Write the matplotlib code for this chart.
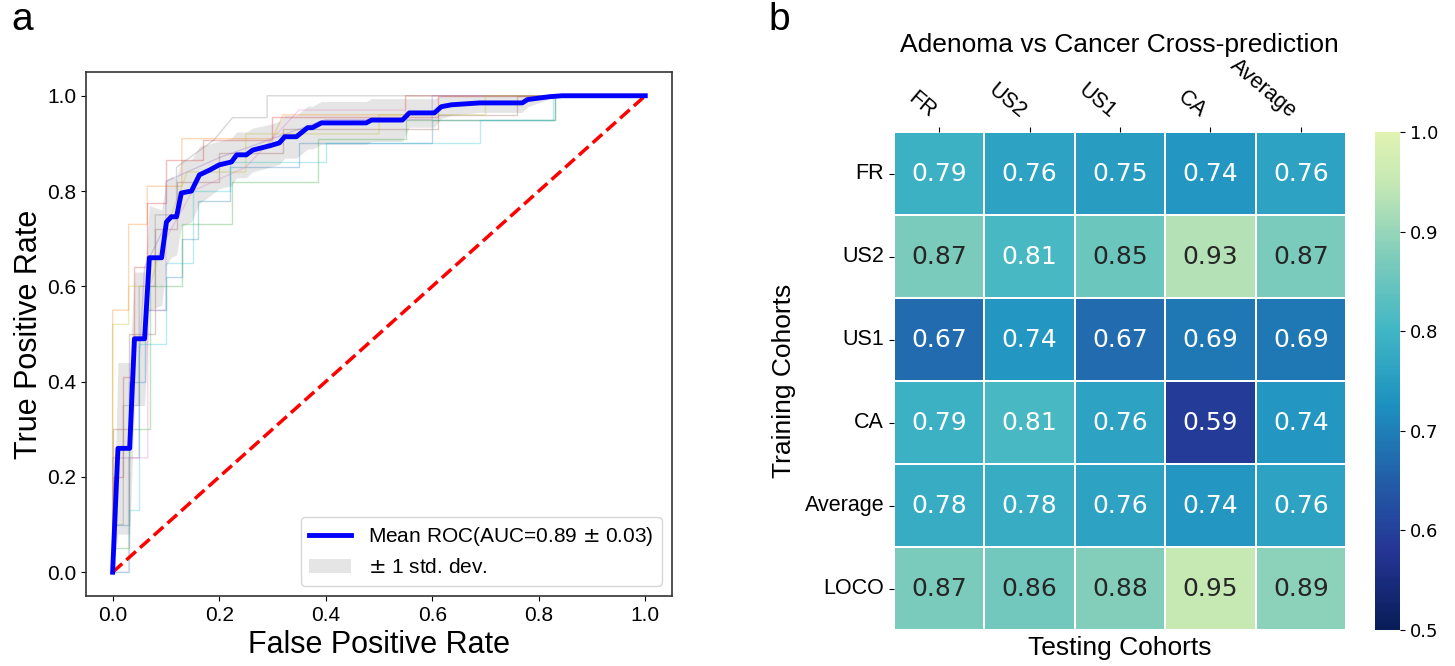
import numpy as np
import matplotlib
matplotlib.use("Agg")
import matplotlib.pyplot as plt
from matplotlib.colors import ListedColormap
import seaborn as sns

plt.rcParams['font.family'] = ['Liberation Sans', 'DejaVu Sans']

# ---- panel a: ROC ----
mean_fpr = [0, 0.01, 0.032, 0.041, 0.06, 0.069, 0.092, 0.101, 0.11, 0.12, 0.129, 0.148,
            0.163, 0.182, 0.2, 0.223, 0.233, 0.251, 0.263, 0.295, 0.313, 0.323, 0.345,
            0.366, 0.375, 0.392, 0.476, 0.486, 0.544, 0.557, 0.604, 0.617, 0.636, 0.689,
            0.769, 0.779, 0.82, 0.844, 1.0]
mean_tpr = [0, 0.26, 0.26, 0.49, 0.49, 0.66, 0.66, 0.735, 0.746, 0.746, 0.796, 0.80,
            0.834, 0.844, 0.855, 0.861, 0.876, 0.876, 0.886, 0.895, 0.901, 0.914, 0.914,
            0.933, 0.933, 0.943, 0.943, 0.949, 0.949, 0.964, 0.964, 0.977, 0.981, 0.985,
            0.985, 0.992, 0.998, 1.0, 1.0]
std_tpr = [0, 0.18, 0.18, 0.14, 0.14, 0.11, 0.10, 0.09, 0.085, 0.08, 0.07, 0.065,
           0.06, 0.055, 0.05, 0.05, 0.048, 0.048, 0.046, 0.045, 0.045, 0.045, 0.045,
           0.045, 0.045, 0.045, 0.045, 0.045, 0.045, 0.03, 0.03, 0.025, 0.022, 0.02,
           0.02, 0.015, 0.005, 0, 0]
mean_auc = 0.89
std_auc = 0.03

# individual folds
fold_fpr = [
    [0, 0, 0.03, 0.03, 0.06, 0.06, 0.1, 0.1, 0.13, 0.13, 0.16, 0.16, 0.22, 0.22, 0.35, 0.35, 0.6, 0.6, 0.83, 0.83, 1],
    [0, 0, 0.03, 0.03, 0.065, 0.065, 0.13, 0.13, 0.3, 0.32, 0.55, 0.55, 1],
    [0, 0, 0.03, 0.03, 0.07, 0.07, 0.13, 0.13, 0.225, 0.225, 0.385, 0.385, 0.55, 0.55, 0.83, 0.83, 1],
    [0, 0, 0.02, 0.02, 0.04, 0.04, 0.064, 0.064, 0.1, 0.1, 0.17, 0.17, 0.3, 0.3, 0.61, 0.61, 1],
    [0, 0, 0.05, 0.05, 0.06, 0.1, 0.1, 0.2, 0.4, 0.6, 0.6, 1],
    [0, 0, 0.03, 0.03, 0.08, 0.08, 0.12, 0.12, 0.2, 0.2, 0.32, 0.32, 0.61, 0.61, 0.76, 0.76, 1],
    [0, 0.03, 0.03, 0.066, 0.066, 0.1, 0.1, 0.15, 0.25, 0.35, 0.55, 0.55, 1],
    [0, 0, 0.02, 0.02, 0.05, 0.05, 0.08, 0.08, 0.12, 0.12, 0.19, 0.225, 0.29, 0.29, 1],
    [0, 0, 0.03, 0.03, 0.07, 0.1, 0.14, 0.25, 0.25, 0.5, 0.5, 0.7, 0.7, 1],
    [0, 0.03, 0.03, 0.05, 0.05, 0.1, 0.1, 0.15, 0.15, 0.22, 0.22, 0.4, 0.4, 0.69, 0.69, 0.826, 0.826, 1],
]
fold_tpr = [
    [0, 0.1, 0.1, 0.4, 0.4, 0.55, 0.55, 0.62, 0.62, 0.7, 0.7, 0.78, 0.78, 0.85, 0.85, 0.9, 0.9, 0.95, 0.95, 1, 1],
    [0, 0.55, 0.55, 0.73, 0.73, 0.81, 0.81, 0.91, 0.91, 0.96, 0.96, 1, 1],
    [0, 0.05, 0.05, 0.3, 0.3, 0.6, 0.6, 0.73, 0.73, 0.82, 0.82, 0.91, 0.91, 0.95, 0.95, 1, 1],
    [0, 0.2, 0.2, 0.41, 0.41, 0.64, 0.64, 0.775, 0.775, 0.866, 0.866, 0.908, 0.908, 0.956, 0.956, 1, 1],
    [0, 0.24, 0.24, 0.45, 0.64, 0.73, 0.82, 0.87, 0.95, 0.95, 1, 1],
    [0, 0.3, 0.3, 0.5, 0.5, 0.72, 0.72, 0.82, 0.82, 0.88, 0.88, 0.93, 0.93, 0.96, 0.96, 1, 1],
    [0, 0, 0.24, 0.24, 0.55, 0.55, 0.7, 0.8, 0.85, 0.97, 0.97, 1, 1],
    [0, 0.1, 0.1, 0.35, 0.35, 0.6, 0.6, 0.75, 0.75, 0.85, 0.907, 0.954, 0.954, 1, 1],
    [0, 0.52, 0.52, 0.6, 0.6, 0.72, 0.84, 0.84, 0.92, 0.92, 0.96, 0.96, 1, 1],
    [0, 0, 0.13, 0.13, 0.48, 0.48, 0.65, 0.65, 0.8, 0.8, 0.86, 0.86, 0.9, 0.9, 0.95, 0.95, 1, 1],
]

# ---- panel b: cross-prediction AUC matrix ----
test_cohorts = ["FR", "US2", "US1", "CA", "Average"]
train_cohorts = ["FR", "US2", "US1", "CA", "Average", "LOCO"]
auc_fr = [0.79, 0.76, 0.75, 0.74, 0.76]
auc_us2 = [0.87, 0.81, 0.85, 0.93, 0.87]
auc_us1 = [0.67, 0.74, 0.67, 0.69, 0.69]
auc_ca = [0.79, 0.81, 0.76, 0.59, 0.74]
auc_avg = [0.78, 0.78, 0.76, 0.74, 0.76]
auc_loco = [0.87, 0.86, 0.88, 0.95, 0.89]


fig = plt.figure(figsize=(14.55, 6.66), dpi=100)

# ROC panel
ax = fig.add_axes([0.0591, 0.105, 0.4027, 0.787])
colors = plt.cm.tab10.colors
for i, (f, t) in enumerate(zip(fold_fpr, fold_tpr)):
    ax.plot(f, t, color=colors[i % 10], lw=1, alpha=0.3)

ax.plot([0, 1], [0, 1], linestyle='--', lw=2.5, color='r')

mean_fpr = np.array(mean_fpr)
mean_tpr = np.array(mean_tpr)
std_tpr = np.array(std_tpr)
ax.plot(mean_fpr, mean_tpr, color='b', lw=3.5,
        label=r'Mean ROC(AUC=%0.2f $\pm$ %0.2f)' % (mean_auc, std_auc))
upper = np.minimum(mean_tpr + std_tpr, 1)
lower = np.maximum(mean_tpr - std_tpr, 0)
ax.fill_between(mean_fpr, lower, upper, color='grey', alpha=0.2,
                label=r'$\pm$ 1 std. dev.', lw=0)

ax.set_xlim(-0.05, 1.05)
ax.set_ylim(-0.05, 1.05)
ax.set_xticks([0, 0.2, 0.4, 0.6, 0.8, 1.0])
ax.set_yticks([0, 0.2, 0.4, 0.6, 0.8, 1.0])
ax.tick_params(labelsize=15)
ax.set_xlabel('False Positive Rate', fontsize=22)
ax.set_ylabel('True Positive Rate', fontsize=22, labelpad=2)
for s in ax.spines.values():
    s.set_color('#333333')
    s.set_linewidth(1.2)
ax.legend(loc='lower right', fontsize=15)

# heatmap panel
data = np.array([auc_fr, auc_us2, auc_us1, auc_ca, auc_avg, auc_loco])
cmap = ListedColormap(plt.cm.YlGnBu_r(np.linspace(0, 0.83, 256)))
hax = fig.add_axes([0.6144, 0.054, 0.3107, 0.7477])
cax = fig.add_axes([0.945, 0.054, 0.0172, 0.7477])
sns.heatmap(data, ax=hax, cbar_ax=cax, cmap=cmap, vmin=0.5, vmax=1.0,
            annot=True, fmt='.2f', annot_kws={'fontsize': 18, 'family': 'DejaVu Sans'},
            linewidths=1.2, linecolor='white',
            xticklabels=test_cohorts, yticklabels=train_cohorts)
hax.xaxis.tick_top()
hax.set_xticklabels(test_cohorts, rotation=-40, ha='right', fontsize=15.5)
hax.set_yticklabels(train_cohorts, rotation=0, fontsize=15.5)
hax.set_xlabel('Testing Cohorts', fontsize=19)
hax.xaxis.set_label_position('bottom')
hax.set_ylabel('Training Cohorts', fontsize=19, labelpad=6)
cax.tick_params(labelsize=13)
for lab in cax.get_yticklabels():
    lab.set_family('DejaVu Sans')

fig.text(0.7696, 0.932, 'Adenoma vs Cancer Cross-prediction', fontsize=19,
         ha='center', va='center')
fig.text(0.008, 0.955, 'a', fontsize=28)
fig.text(0.528, 0.955, 'b', fontsize=28)

fig.savefig('out.png', dpi=100)
